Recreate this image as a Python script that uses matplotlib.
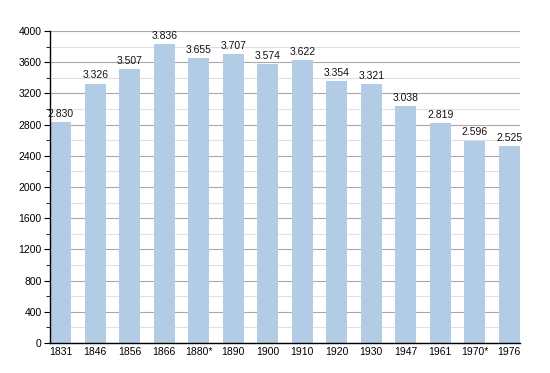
import numpy as np
import matplotlib.pyplot as plt
from matplotlib.ticker import MultipleLocator

years = ['1831', '1846', '1856', '1866', '1880*', '1890', '1900', '1910',
         '1920', '1930', '1947', '1961', '1970*', '1976']
population = [2830, 3326, 3507, 3836, 3655, 3707, 3574, 3622,
              3354, 3321, 3038, 2819, 2596, 2525]

plt.rcParams['font.family'] = ['Liberation Sans', 'DejaVu Sans']

fig = plt.figure(figsize=(5.5, 3.73), dpi=100)
ax = fig.add_axes([50/550, 30/373, 470/550, 312/373])

x = np.arange(len(years))
w = 0.61
ax.bar(x, population, width=w, color='#b3cce6', zorder=2)

for xi, v in zip(x, population):
    ax.text(xi, v + 40, f'{v // 1000}.{v % 1000:03d}', ha='center', va='bottom',
            fontsize=7.5, color='#111111', zorder=3)

ax.set_xlim(-w/2 - 0.005, len(years) - 1 + w/2 + 0.005)
ax.set_ylim(0, 4000)
ax.set_xticks(x)
ax.set_xticklabels(years)
ax.yaxis.set_major_locator(MultipleLocator(400))
ax.yaxis.set_minor_locator(MultipleLocator(200))

ax.grid(axis='y', which='major', color='#a8a8a8', linewidth=0.8, zorder=0)
ax.grid(axis='y', which='minor', color='#e0e0e0', linewidth=0.8, zorder=0)

ax.tick_params(axis='x', length=0, labelsize=7.5, pad=3)
ax.tick_params(axis='y', which='major', length=4, labelsize=7.5, pad=2)
ax.tick_params(axis='y', which='minor', length=3)

for s in ['top', 'right']:
    ax.spines[s].set_visible(False)
ax.spines['left'].set_linewidth(1)
ax.spines['bottom'].set_linewidth(1)

fig.savefig('out.png', dpi=100)
